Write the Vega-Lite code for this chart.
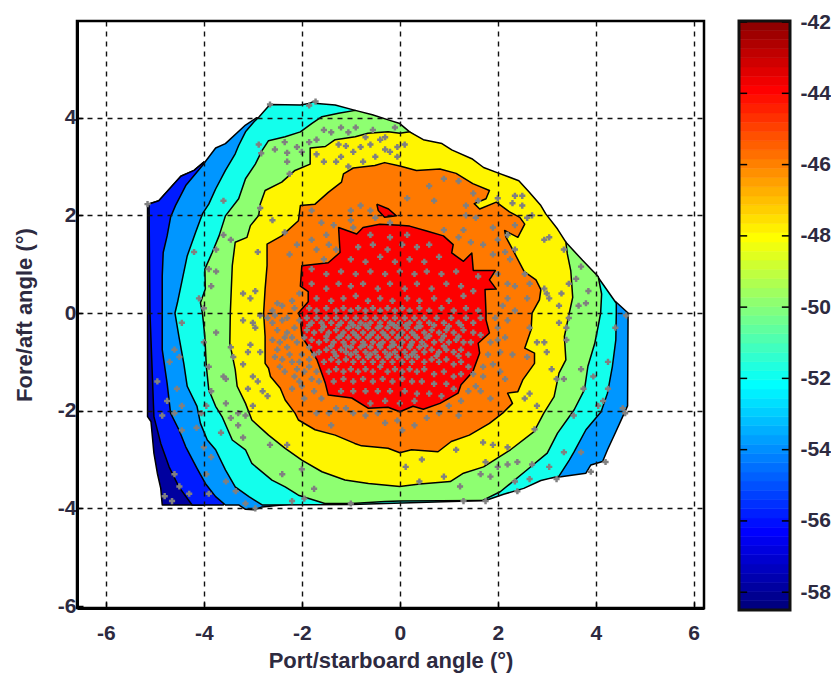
{"$schema":"https://vega.github.io/schema/vega-lite/v6.json","background":"white","padding":{"left":12,"top":11,"right":0,"bottom":0},"spacing":31,"config":{"view":{"stroke":null},"axis":{"labelFont":"Liberation Sans","labelFontWeight":"bold","labelFontSize":21,"labelColor":"#2d2a40","titleFont":"Liberation Sans","titleFontWeight":"bold","titleFontSize":22,"titleColor":"#2d2a40"}},
"datasets":{"contours":[
{"poly":1,"level":-58,"x":-5.15,"y":2.23},{"poly":1,"level":-58,"x":-4.92,"y":2.3},{"poly":1,"level":-58,"x":-4.64,"y":2.61},{"poly":1,"level":-58,"x":-4.47,"y":2.8},{"poly":1,"level":-58,"x":-4.2,"y":2.92},{"poly":1,"level":-58,"x":-4,"y":3.09},{"poly":1,"level":-58,"x":-3,"y":0},{"poly":1,"level":-58,"x":-4,"y":-3.93},{"poly":1,"level":-58,"x":-4.85,"y":-3.93},{"poly":1,"level":-58,"x":-4.88,"y":-3.59},{"poly":1,"level":-58,"x":-4.95,"y":-3.28},{"poly":1,"level":-58,"x":-5.02,"y":-2.87},{"poly":1,"level":-58,"x":-5.08,"y":-2.22},{"poly":1,"level":-58,"x":-5.15,"y":-2.12},{"poly":1,"level":-58,"x":-5.15,"y":2.23},
{"poly":2,"level":-56,"x":-5.12,"y":2.23},{"poly":2,"level":-56,"x":-4.92,"y":2.3},{"poly":2,"level":-56,"x":-4.64,"y":2.61},{"poly":2,"level":-56,"x":-4.47,"y":2.8},{"poly":2,"level":-56,"x":-4.2,"y":2.92},{"poly":2,"level":-56,"x":-4,"y":3.09},{"poly":2,"level":-56,"x":-3,"y":0},{"poly":2,"level":-56,"x":-3.6,"y":-3.93},{"poly":2,"level":-56,"x":-4.24,"y":-3.93},{"poly":2,"level":-56,"x":-4.51,"y":-3.56},{"poly":2,"level":-56,"x":-4.71,"y":-3.15},{"poly":2,"level":-56,"x":-4.88,"y":-2.67},{"poly":2,"level":-56,"x":-5.02,"y":-2.12},{"poly":2,"level":-56,"x":-5.1,"y":0},{"poly":2,"level":-56,"x":-5.12,"y":2.23},
{"poly":3,"level":-54,"x":-4.03,"y":3.02},{"poly":3,"level":-54,"x":-3.76,"y":3.38},{"poly":3,"level":-54,"x":-3.56,"y":3.47},{"poly":3,"level":-54,"x":-3.15,"y":3.85},{"poly":3,"level":-54,"x":-2.92,"y":4},{"poly":3,"level":-54,"x":4.42,"y":0.22},{"poly":3,"level":-54,"x":4.66,"y":0},{"poly":3,"level":-54,"x":4.65,"y":-1.9},{"poly":3,"level":-54,"x":4.55,"y":-2.12},{"poly":3,"level":-54,"x":4.41,"y":-2.43},{"poly":3,"level":-54,"x":4.24,"y":-2.8},{"poly":3,"level":-54,"x":4.14,"y":-3.04},{"poly":3,"level":-54,"x":3.9,"y":-3.11},{"poly":3,"level":-54,"x":3.8,"y":-3.28},{"poly":3,"level":-54,"x":3.29,"y":-3.35},{"poly":3,"level":-54,"x":-2.81,"y":-3.97},{"poly":3,"level":-54,"x":-2.98,"y":-4.03},{"poly":3,"level":-54,"x":-3.15,"y":-4.02},{"poly":3,"level":-54,"x":-3.29,"y":-3.93},{"poly":3,"level":-54,"x":-3.56,"y":-3.93},{"poly":3,"level":-54,"x":-3.76,"y":-3.76},{"poly":3,"level":-54,"x":-3.97,"y":-3.49},{"poly":3,"level":-54,"x":-4.14,"y":-3.18},{"poly":3,"level":-54,"x":-4.37,"y":-2.74},{"poly":3,"level":-54,"x":-4.51,"y":-2.39},{"poly":3,"level":-54,"x":-4.68,"y":-2.05},{"poly":3,"level":-54,"x":-4.75,"y":-1.44},{"poly":3,"level":-54,"x":-4.85,"y":-0.75},{"poly":3,"level":-54,"x":-4.85,"y":0.76},{"poly":3,"level":-54,"x":-4.83,"y":1.24},{"poly":3,"level":-54,"x":-4.75,"y":1.58},{"poly":3,"level":-54,"x":-4.68,"y":1.96},{"poly":3,"level":-54,"x":-4.58,"y":2.2},{"poly":3,"level":-54,"x":-4.37,"y":2.61},{"poly":3,"level":-54,"x":-4.03,"y":3.02},
{"poly":4,"level":-52,"x":-2.88,"y":4.01},{"poly":4,"level":-52,"x":-2.65,"y":4.27},{"poly":4,"level":-52,"x":-2.03,"y":4.26},{"poly":4,"level":-52,"x":-1.86,"y":4.29},{"poly":4,"level":-52,"x":-1.76,"y":4.33},{"poly":4,"level":-52,"x":-1.69,"y":4.29},{"poly":4,"level":-52,"x":-1.32,"y":4.26},{"poly":4,"level":-52,"x":-0.91,"y":4.15},{"poly":4,"level":-52,"x":4,"y":0.8},{"poly":4,"level":-52,"x":4.42,"y":0.2},{"poly":4,"level":-52,"x":4.42,"y":0},{"poly":4,"level":-52,"x":4.41,"y":-0.55},{"poly":4,"level":-52,"x":4.34,"y":-1.09},{"poly":4,"level":-52,"x":4.24,"y":-1.64},{"poly":4,"level":-52,"x":4.11,"y":-2.02},{"poly":4,"level":-52,"x":3.8,"y":-2.39},{"poly":4,"level":-52,"x":3.56,"y":-2.84},{"poly":4,"level":-52,"x":3.46,"y":-3.01},{"poly":4,"level":-52,"x":3.25,"y":-3.34},{"poly":4,"level":-52,"x":2.88,"y":-3.43},{"poly":4,"level":-52,"x":2.53,"y":-3.59},{"poly":4,"level":-52,"x":2.12,"y":-3.71},{"poly":4,"level":-52,"x":1.75,"y":-3.84},{"poly":4,"level":-52,"x":-0.98,"y":-3.92},{"poly":4,"level":-52,"x":-2.68,"y":-3.93},{"poly":4,"level":-52,"x":-2.81,"y":-3.93},{"poly":4,"level":-52,"x":-3.08,"y":-3.76},{"poly":4,"level":-52,"x":-3.36,"y":-3.56},{"poly":4,"level":-52,"x":-3.56,"y":-3.21},{"poly":4,"level":-52,"x":-3.76,"y":-2.8},{"poly":4,"level":-52,"x":-3.93,"y":-2.6},{"poly":4,"level":-52,"x":-4.07,"y":-2.26},{"poly":4,"level":-52,"x":-4.14,"y":-1.91},{"poly":4,"level":-52,"x":-4.34,"y":-1.5},{"poly":4,"level":-52,"x":-4.41,"y":-1.03},{"poly":4,"level":-52,"x":-4.51,"y":-0.48},{"poly":4,"level":-52,"x":-4.59,"y":0},{"poly":4,"level":-52,"x":-4.54,"y":0.21},{"poly":4,"level":-52,"x":-4.44,"y":0.69},{"poly":4,"level":-52,"x":-4.34,"y":1.17},{"poly":4,"level":-52,"x":-4.17,"y":1.65},{"poly":4,"level":-52,"x":-4.03,"y":2.03},{"poly":4,"level":-52,"x":-3.9,"y":2.23},{"poly":4,"level":-52,"x":-3.76,"y":2.54},{"poly":4,"level":-52,"x":-3.56,"y":2.92},{"poly":4,"level":-52,"x":-3.36,"y":3.26},{"poly":4,"level":-52,"x":-3.29,"y":3.43},{"poly":4,"level":-52,"x":-3.15,"y":3.71},{"poly":4,"level":-52,"x":-2.98,"y":3.91},{"poly":4,"level":-52,"x":-2.88,"y":4.01},
{"poly":5,"level":-50,"x":-0.91,"y":4.15},{"poly":5,"level":-50,"x":-0.56,"y":4.06},{"poly":5,"level":-50,"x":-0.22,"y":3.95},{"poly":5,"level":-50,"x":0,"y":3.88},{"poly":5,"level":-50,"x":0.2,"y":3.71},{"poly":5,"level":-50,"x":3.39,"y":1.45},{"poly":5,"level":-50,"x":3.73,"y":1.08},{"poly":5,"level":-50,"x":4,"y":0.8},{"poly":5,"level":-50,"x":4.05,"y":0.75},{"poly":5,"level":-50,"x":4.12,"y":0.39},{"poly":5,"level":-50,"x":4.1,"y":0},{"poly":5,"level":-50,"x":4.05,"y":-0.27},{"poly":5,"level":-50,"x":3.98,"y":-0.62},{"poly":5,"level":-50,"x":3.84,"y":-1.09},{"poly":5,"level":-50,"x":3.77,"y":-1.57},{"poly":5,"level":-50,"x":3.56,"y":-1.98},{"poly":5,"level":-50,"x":3.22,"y":-2.46},{"poly":5,"level":-50,"x":3.01,"y":-2.87},{"poly":5,"level":-50,"x":2.6,"y":-3.21},{"poly":5,"level":-50,"x":2.05,"y":-3.66},{"poly":5,"level":-50,"x":1.68,"y":-3.84},{"poly":5,"level":-50,"x":0,"y":-3.85},{"poly":5,"level":-50,"x":-0.3,"y":-3.86},{"poly":5,"level":-50,"x":-0.98,"y":-3.9},{"poly":5,"level":-50,"x":-1.53,"y":-3.9},{"poly":5,"level":-50,"x":-2.07,"y":-3.73},{"poly":5,"level":-50,"x":-2.34,"y":-3.56},{"poly":5,"level":-50,"x":-2.61,"y":-3.42},{"poly":5,"level":-50,"x":-3.02,"y":-3.08},{"poly":5,"level":-50,"x":-3.15,"y":-2.8},{"poly":5,"level":-50,"x":-3.42,"y":-2.6},{"poly":5,"level":-50,"x":-3.63,"y":-2.12},{"poly":5,"level":-50,"x":-3.76,"y":-1.91},{"poly":5,"level":-50,"x":-3.9,"y":-1.57},{"poly":5,"level":-50,"x":-3.95,"y":-1.09},{"poly":5,"level":-50,"x":-3.98,"y":-0.48},{"poly":5,"level":-50,"x":-4.03,"y":0},{"poly":5,"level":-50,"x":-4.07,"y":0.21},{"poly":5,"level":-50,"x":-3.97,"y":0.49},{"poly":5,"level":-50,"x":-3.98,"y":0.9},{"poly":5,"level":-50,"x":-3.83,"y":1.24},{"poly":5,"level":-50,"x":-3.69,"y":1.58},{"poly":5,"level":-50,"x":-3.56,"y":1.99},{"poly":5,"level":-50,"x":-3.29,"y":2.34},{"poly":5,"level":-50,"x":-3.15,"y":2.75},{"poly":5,"level":-50,"x":-2.95,"y":3.05},{"poly":5,"level":-50,"x":-2.81,"y":3.33},{"poly":5,"level":-50,"x":-2.68,"y":3.53},{"poly":5,"level":-50,"x":-2.34,"y":3.61},{"poly":5,"level":-50,"x":-2.03,"y":3.71},{"poly":5,"level":-50,"x":-1.8,"y":3.88},{"poly":5,"level":-50,"x":-1.59,"y":4.02},{"poly":5,"level":-50,"x":-1.25,"y":4.09},{"poly":5,"level":-50,"x":-0.91,"y":4.15},
{"poly":6,"level":-48,"x":0.2,"y":3.71},{"poly":6,"level":-48,"x":0.48,"y":3.55},{"poly":6,"level":-48,"x":0.86,"y":3.47},{"poly":6,"level":-48,"x":1.06,"y":3.34},{"poly":6,"level":-48,"x":1.47,"y":3.16},{"poly":6,"level":-48,"x":1.71,"y":2.98},{"poly":6,"level":-48,"x":2,"y":2.87},{"poly":6,"level":-48,"x":2.43,"y":2.71},{"poly":6,"level":-48,"x":2.64,"y":2.48},{"poly":6,"level":-48,"x":2.88,"y":2.2},{"poly":6,"level":-48,"x":2.98,"y":2.03},{"poly":6,"level":-48,"x":3.22,"y":1.72},{"poly":6,"level":-48,"x":3.39,"y":1.45},{"poly":6,"level":-48,"x":3.42,"y":1.21},{"poly":6,"level":-48,"x":3.49,"y":0.87},{"poly":6,"level":-48,"x":3.53,"y":0.32},{"poly":6,"level":-48,"x":3.46,"y":0},{"poly":6,"level":-48,"x":3.36,"y":-0.48},{"poly":6,"level":-48,"x":3.39,"y":-0.96},{"poly":6,"level":-48,"x":3.25,"y":-1.23},{"poly":6,"level":-48,"x":3.15,"y":-1.71},{"poly":6,"level":-48,"x":2.94,"y":-2.05},{"poly":6,"level":-48,"x":2.74,"y":-2.43},{"poly":6,"level":-48,"x":2.26,"y":-2.8},{"poly":6,"level":-48,"x":1.71,"y":-3.15},{"poly":6,"level":-48,"x":1.3,"y":-3.28},{"poly":6,"level":-48,"x":1.03,"y":-3.45},{"poly":6,"level":-48,"x":0.41,"y":-3.5},{"poly":6,"level":-48,"x":0,"y":-3.55},{"poly":6,"level":-48,"x":-0.64,"y":-3.49},{"poly":6,"level":-48,"x":-1.12,"y":-3.42},{"poly":6,"level":-48,"x":-1.59,"y":-3.25},{"poly":6,"level":-48,"x":-2,"y":-3.01},{"poly":6,"level":-48,"x":-2.34,"y":-2.77},{"poly":6,"level":-48,"x":-2.68,"y":-2.5},{"poly":6,"level":-48,"x":-3.02,"y":-2.19},{"poly":6,"level":-48,"x":-3.15,"y":-1.85},{"poly":6,"level":-48,"x":-3.32,"y":-1.5},{"poly":6,"level":-48,"x":-3.36,"y":-1.16},{"poly":6,"level":-48,"x":-3.47,"y":-0.62},{"poly":6,"level":-48,"x":-3.46,"y":0},{"poly":6,"level":-48,"x":-3.44,"y":0.49},{"poly":6,"level":-48,"x":-3.42,"y":0.97},{"poly":6,"level":-48,"x":-3.36,"y":1.45},{"poly":6,"level":-48,"x":-3.12,"y":1.55},{"poly":6,"level":-48,"x":-3.05,"y":1.79},{"poly":6,"level":-48,"x":-2.88,"y":2},{"poly":6,"level":-48,"x":-2.85,"y":2.23},{"poly":6,"level":-48,"x":-2.75,"y":2.51},{"poly":6,"level":-48,"x":-2.41,"y":2.68},{"poly":6,"level":-48,"x":-2.14,"y":2.92},{"poly":6,"level":-48,"x":-1.83,"y":3.05},{"poly":6,"level":-48,"x":-1.83,"y":3.38},{"poly":6,"level":-48,"x":-1.52,"y":3.41},{"poly":6,"level":-48,"x":-1.32,"y":3.55},{"poly":6,"level":-48,"x":-0.91,"y":3.61},{"poly":6,"level":-48,"x":-0.65,"y":3.68},{"poly":6,"level":-48,"x":-0.24,"y":3.71},{"poly":6,"level":-48,"x":0,"y":3.68},{"poly":6,"level":-48,"x":0.2,"y":3.71},
{"poly":7,"level":-46,"x":-2.78,"y":0},{"poly":7,"level":-46,"x":-2.75,"y":0.49},{"poly":7,"level":-46,"x":-2.71,"y":0.97},{"poly":7,"level":-46,"x":-2.71,"y":1.41},{"poly":7,"level":-46,"x":-2.41,"y":1.58},{"poly":7,"level":-46,"x":-2.07,"y":1.89},{"poly":7,"level":-46,"x":-2.03,"y":2.2},{"poly":7,"level":-46,"x":-1.73,"y":2.23},{"poly":7,"level":-46,"x":-1.46,"y":2.47},{"poly":7,"level":-46,"x":-1.19,"y":2.68},{"poly":7,"level":-46,"x":-1.15,"y":2.85},{"poly":7,"level":-46,"x":-0.95,"y":2.97},{"poly":7,"level":-46,"x":-0.51,"y":3.02},{"poly":7,"level":-46,"x":-0.31,"y":3.08},{"poly":7,"level":-46,"x":0,"y":3.01},{"poly":7,"level":-46,"x":0.34,"y":2.92},{"poly":7,"level":-46,"x":0.82,"y":2.95},{"poly":7,"level":-46,"x":1.15,"y":2.86},{"poly":7,"level":-46,"x":1.49,"y":2.65},{"poly":7,"level":-46,"x":1.83,"y":2.51},{"poly":7,"level":-46,"x":1.76,"y":2.34},{"poly":7,"level":-46,"x":1.52,"y":2.24},{"poly":7,"level":-46,"x":1.63,"y":2.13},{"poly":7,"level":-46,"x":1.97,"y":2.27},{"poly":7,"level":-46,"x":2.24,"y":2.07},{"poly":7,"level":-46,"x":2.45,"y":1.96},{"poly":7,"level":-46,"x":2.55,"y":1.82},{"poly":7,"level":-46,"x":2.41,"y":1.55},{"poly":7,"level":-46,"x":2.14,"y":1.69},{"poly":7,"level":-46,"x":2.17,"y":1.55},{"poly":7,"level":-46,"x":2.34,"y":1.23},{"poly":7,"level":-46,"x":2.54,"y":0.85},{"poly":7,"level":-46,"x":2.78,"y":0.68},{"poly":7,"level":-46,"x":2.88,"y":0.48},{"poly":7,"level":-46,"x":2.85,"y":0.27},{"poly":7,"level":-46,"x":2.7,"y":0},{"poly":7,"level":-46,"x":2.68,"y":-0.34},{"poly":7,"level":-46,"x":2.55,"y":-0.72},{"poly":7,"level":-46,"x":2.75,"y":-0.82},{"poly":7,"level":-46,"x":2.75,"y":-1.03},{"poly":7,"level":-46,"x":2.51,"y":-1.37},{"poly":7,"level":-46,"x":2.41,"y":-1.61},{"poly":7,"level":-46,"x":2.2,"y":-1.64},{"poly":7,"level":-46,"x":2.3,"y":-1.85},{"poly":7,"level":-46,"x":2.1,"y":-2.05},{"poly":7,"level":-46,"x":1.83,"y":-2.26},{"poly":7,"level":-46,"x":1.42,"y":-2.5},{"poly":7,"level":-46,"x":1.05,"y":-2.63},{"poly":7,"level":-46,"x":0.78,"y":-2.84},{"poly":7,"level":-46,"x":0.24,"y":-2.8},{"poly":7,"level":-46,"x":0,"y":-2.86},{"poly":7,"level":-46,"x":-0.24,"y":-2.77},{"poly":7,"level":-46,"x":-0.78,"y":-2.72},{"poly":7,"level":-46,"x":-0.92,"y":-2.67},{"poly":7,"level":-46,"x":-1.32,"y":-2.5},{"poly":7,"level":-46,"x":-1.73,"y":-2.39},{"poly":7,"level":-46,"x":-2.07,"y":-2.19},{"poly":7,"level":-46,"x":-2.14,"y":-2.05},{"poly":7,"level":-46,"x":-2.34,"y":-1.78},{"poly":7,"level":-46,"x":-2.44,"y":-1.54},{"poly":7,"level":-46,"x":-2.64,"y":-1.3},{"poly":7,"level":-46,"x":-2.68,"y":-1.13},{"poly":7,"level":-46,"x":-2.75,"y":-1.03},{"poly":7,"level":-46,"x":-2.75,"y":-0.48},{"poly":7,"level":-46,"x":-2.78,"y":0},
{"poly":8,"level":-44,"x":-2.03,"y":-0.1},{"poly":8,"level":-44,"x":-2,"y":-0.48},{"poly":8,"level":-44,"x":-1.69,"y":-0.96},{"poly":8,"level":-44,"x":-1.52,"y":-1.44},{"poly":8,"level":-44,"x":-1.46,"y":-1.68},{"poly":8,"level":-44,"x":-0.98,"y":-1.74},{"poly":8,"level":-44,"x":-0.64,"y":-1.95},{"poly":8,"level":-44,"x":-0.24,"y":-1.93},{"poly":8,"level":-44,"x":0,"y":-2.02},{"poly":8,"level":-44,"x":0.27,"y":-1.91},{"poly":8,"level":-44,"x":0.48,"y":-1.97},{"poly":8,"level":-44,"x":0.82,"y":-1.85},{"poly":8,"level":-44,"x":1.19,"y":-1.64},{"poly":8,"level":-44,"x":1.25,"y":-1.47},{"poly":8,"level":-44,"x":1.49,"y":-1.2},{"poly":8,"level":-44,"x":1.63,"y":-0.82},{"poly":8,"level":-44,"x":1.6,"y":-0.62},{"poly":8,"level":-44,"x":1.83,"y":-0.41},{"poly":8,"level":-44,"x":1.76,"y":-0.14},{"poly":8,"level":-44,"x":1.76,"y":0},{"poly":8,"level":-44,"x":1.74,"y":0.48},{"poly":8,"level":-44,"x":1.97,"y":0.49},{"poly":8,"level":-44,"x":1.83,"y":0.68},{"poly":8,"level":-44,"x":1.95,"y":0.87},{"poly":8,"level":-44,"x":1.5,"y":0.87},{"poly":8,"level":-44,"x":1.47,"y":1.23},{"poly":8,"level":-44,"x":1.3,"y":1.06},{"poly":8,"level":-44,"x":1.06,"y":1.23},{"poly":8,"level":-44,"x":1.09,"y":1.4},{"poly":8,"level":-44,"x":0.89,"y":1.58},{"poly":8,"level":-44,"x":0.55,"y":1.68},{"poly":8,"level":-44,"x":0.2,"y":1.78},{"poly":8,"level":-44,"x":0,"y":1.8},{"poly":8,"level":-44,"x":-0.41,"y":1.82},{"poly":8,"level":-44,"x":-0.75,"y":1.75},{"poly":8,"level":-44,"x":-0.88,"y":1.62},{"poly":8,"level":-44,"x":-1.25,"y":1.75},{"poly":8,"level":-44,"x":-1.22,"y":1.24},{"poly":8,"level":-44,"x":-1.46,"y":1.03},{"poly":8,"level":-44,"x":-2,"y":0.97},{"poly":8,"level":-44,"x":-2.03,"y":0.55},{"poly":8,"level":-44,"x":-1.87,"y":0.44},{"poly":8,"level":-44,"x":-1.87,"y":0.23},{"poly":8,"level":-44,"x":-2.07,"y":0},{"poly":8,"level":-44,"x":-2.03,"y":-0.1},
{"poly":9,"level":-44,"x":-0.47,"y":2.23},{"poly":9,"level":-44,"x":-0.23,"y":2.13},{"poly":9,"level":-44,"x":-0.07,"y":1.99},{"poly":9,"level":-44,"x":-0.31,"y":1.96},{"poly":9,"level":-44,"x":-0.44,"y":2.1},{"poly":9,"level":-44,"x":-0.47,"y":2.23}],
"points":[
{"x":-5.15,"y":2.23},{"x":-2.65,"y":4.27},{"x":-1.72,"y":4.33},{"x":-1.85,"y":4.25},{"x":-2.88,"y":3.45},{"x":-2.83,"y":3.27},{"x":-2.55,"y":3.35},{"x":-2.35,"y":3.5},{"x":-2.3,"y":3.28},{"x":-2.3,"y":3.1},{"x":-2.1,"y":3.4},{"x":-2,"y":3.3},{"x":-2.25,"y":2.85},{"x":-1.85,"y":3.5},{"x":-1.7,"y":3.55},{"x":-1.55,"y":3.75},{"x":-1.4,"y":3.7},{"x":-1.2,"y":3.8},{"x":-1.05,"y":3.7},{"x":-0.9,"y":3.8},{"x":-0.7,"y":3.6},{"x":-0.55,"y":3.75},{"x":-0.3,"y":3.6},{"x":-0.1,"y":3.8},{"x":-1.7,"y":3.25},{"x":-1.55,"y":3.1},{"x":-1.3,"y":3.1},{"x":-1.2,"y":3.2},{"x":-1.05,"y":3},{"x":-0.95,"y":3.3},{"x":-1.25,"y":3.45},{"x":-1.1,"y":3.42},{"x":-0.8,"y":3.4},{"x":-0.6,"y":3.45},{"x":-0.4,"y":3.55},{"x":-0.3,"y":3.35},{"x":-0.2,"y":3.3},{"x":-0.05,"y":3.4},{"x":-0.05,"y":3.2},{"x":-0.5,"y":3.2},{"x":-0.75,"y":3.1},{"x":0.1,"y":3.45},{"x":-3.6,"y":2.3},{"x":-3.75,"y":1.3},{"x":-3.9,"y":0.9},{"x":-3.75,"y":0.85},{"x":-4.2,"y":1.25},{"x":-3.6,"y":1.6},{"x":-3.45,"y":1.5},{"x":-3.85,"y":0.55},{"x":-4.1,"y":0.3},{"x":-4,"y":0.1},{"x":-3.2,"y":0.4},{"x":-2.95,"y":0.45},{"x":-3.05,"y":0.3},{"x":-2.9,"y":1.25},{"x":-2.85,"y":2.15},{"x":-2.6,"y":1.9},{"x":-2.35,"y":1.65},{"x":-2.1,"y":1.4},{"x":-2.25,"y":1.2},{"x":-1.8,"y":2.1},{"x":-1.6,"y":1.85},{"x":-1.5,"y":1.6},{"x":-1.35,"y":1.8},{"x":-1.8,"y":1.5},{"x":-1.7,"y":1.3},{"x":-1.45,"y":1.4},{"x":-1.55,"y":1.1},{"x":-1.3,"y":1.3},{"x":-1.8,"y":0.9},{"x":-2.5,"y":0.2},{"x":-2.4,"y":0.15},{"x":-2.2,"y":0.25},{"x":-2.05,"y":0.4},{"x":-2.6,"y":0.05},{"x":-2.15,"y":0.1},{"x":-1,"y":2.1},{"x":-0.8,"y":2.2},{"x":-0.6,"y":2.1},{"x":-0.5,"y":1.95},{"x":-0.2,"y":1.85},{"x":-1,"y":1.9},{"x":-0.95,"y":1.75},
{"x":0.15,"y":2.35},{"x":0.6,"y":2.6},{"x":0.9,"y":2.75},{"x":1.2,"y":2.7},{"x":1.5,"y":2.45},{"x":1.6,"y":2.3},{"x":0.7,"y":2.3},{"x":1.35,"y":2.2},{"x":1.35,"y":2},{"x":2.35,"y":2.4},{"x":2.5,"y":2.4},{"x":2.3,"y":2.25},{"x":2.5,"y":2.2},{"x":2.7,"y":2},{"x":2.6,"y":1.95},{"x":2,"y":2.35},{"x":1.55,"y":1.95},{"x":1.9,"y":1.75},{"x":2.35,"y":1.8},{"x":2.2,"y":1.6},{"x":2,"y":1.5},{"x":1.9,"y":1.2},{"x":1.7,"y":1.4},{"x":1.45,"y":1.45},{"x":1.3,"y":1.7},{"x":1.2,"y":1.55},{"x":0.9,"y":1.7},{"x":2.15,"y":1.25},{"x":2.25,"y":1.1},{"x":2.35,"y":1.3},{"x":2.55,"y":0.8},{"x":2.65,"y":0.6},{"x":2.95,"y":1.5},{"x":3.05,"y":1.55},{"x":3.35,"y":1.3},{"x":3.7,"y":0.95},{"x":3.6,"y":0.7},{"x":3.45,"y":0.6},{"x":3.3,"y":0.4},{"x":3.85,"y":0.45},{"x":3.65,"y":0.15},{"x":3.8,"y":0.2},{"x":3,"y":0.4},{"x":3.05,"y":0.3},{"x":2.95,"y":0.5},{"x":3.25,"y":0.15},{"x":2,"y":0.8},{"x":1.6,"y":0.75},{"x":2.2,"y":0.6},{"x":2.35,"y":0.55},{"x":2.6,"y":0.3},{"x":2.2,"y":0.3},{"x":2.1,"y":0.15},{"x":2.2,"y":-0.15},{"x":2,"y":-0.3},{"x":4.62,"y":-0.05},{"x":3.45,"y":-0.1},{"x":3.4,"y":-0.3},{"x":3.25,"y":-0.2},{"x":3.4,"y":-0.55},{"x":4.4,"y":-0.3},{"x":2.8,"y":-0.6},{"x":2.95,"y":-0.6},{"x":2.65,"y":-0.3},{"x":3,"y":-0.8},{"x":2.6,"y":-0.9},{"x":2.3,"y":-0.85},{"x":2.05,"y":-0.8},{"x":1.9,"y":-1.05},{"x":1.7,"y":-1.1},{"x":1.5,"y":-1.25},{"x":1.7,"y":-1.3},{"x":1.55,"y":-1.5},{"x":1.65,"y":-1.6},{"x":1.85,"y":-1.75},{"x":2.15,"y":-1.35},{"x":2.05,"y":-1.2},{"x":1.4,"y":-1.6},{"x":1.25,"y":-1.8},{"x":1,"y":-1.9},{"x":0.8,"y":-2.05},{"x":0.55,"y":-2.15},{"x":0.3,"y":-2.3},{"x":0.05,"y":-2.4},{"x":1.2,"y":-2.1},{"x":2.65,"y":-1.65},{"x":2.55,"y":-1.75},{"x":2.8,"y":-1.9},{"x":3.1,"y":-1.15},{"x":3.2,"y":-1.35},{"x":3.35,"y":-1.35},{"x":3.7,"y":-1.15},{"x":3.75,"y":-1.55},{"x":3.95,"y":-1.3},{"x":4.05,"y":-1.9},{"x":4.25,"y":-1},{"x":4.25,"y":-1.55},{"x":4.15,"y":-1.8},{"x":4.55,"y":-1.95},{"x":4.6,"y":-2.05},{"x":3.55,"y":-2.1},{"x":3.7,"y":-2.85},{"x":3.35,"y":-2.85},{"x":3.9,"y":-3.25},{"x":4.2,"y":-3.05},{"x":3.2,"y":-3.4},{"x":3.05,"y":-3.15},{"x":2.7,"y":-3.1},{"x":2.4,"y":-3.05},{"x":2.2,"y":-3.1},{"x":2,"y":-3.15},{"x":1.75,"y":-3.05},{"x":1.65,"y":-3.3},{"x":1.85,"y":-3.35},{"x":2.35,"y":-3.45},{"x":2.65,"y":-3.4},{"x":2.4,"y":-3.65},{"x":1.75,"y":-3.85},{"x":1.23,"y":-3.55},{"x":1.3,"y":-3.85},{"x":0.9,"y":-3.35},{"x":0.4,"y":-3.45},{"x":0.12,"y":-3.15},{"x":0.45,"y":-3},{"x":1.15,"y":-2.8},{"x":1.7,"y":-2.65},{"x":1.9,"y":-2.7},{"x":2.2,"y":-2.75},{"x":2.75,"y":-2.38},
{"x":-4.7,"y":-1},{"x":-4.95,"y":-1.4},{"x":-4.45,"y":-0.2},{"x":-4.6,"y":-0.75},{"x":-4.5,"y":-0.9},{"x":-4.55,"y":-1.55},{"x":-4.75,"y":-1.8},{"x":-4.45,"y":-1.9},{"x":-4.6,"y":-2.05},{"x":-4.45,"y":-2.4},{"x":-4.85,"y":-2.1},{"x":-4.15,"y":-2.35},{"x":-4.05,"y":-2.05},{"x":-4,"y":-2.75},{"x":-3.95,"y":-3.3},{"x":-3.9,"y":-3.7},{"x":-4.3,"y":-3.7},{"x":-4.5,"y":-3.55},{"x":-4.6,"y":-3.3},{"x":-4.8,"y":-3.75},{"x":-4.65,"y":-3.85},{"x":-3.85,"y":-2.95},{"x":-3.65,"y":-2.45},{"x":-3.55,"y":-3.45},{"x":-3.35,"y":-3.65},{"x":-3.15,"y":-3.9},{"x":-2.95,"y":-4},{"x":-3.95,"y":-1.9},{"x":-3.85,"y":-1.6},{"x":-3.9,"y":-1.1},{"x":-4,"y":-0.6},{"x":-3.75,"y":-0.4},{"x":-3.55,"y":-1.35},{"x":-3.6,"y":-1.3},{"x":-3.55,"y":-1.85},{"x":-3.45,"y":-2.15},{"x":-3.3,"y":-2.05},{"x":-3.3,"y":-2.3},{"x":-3.15,"y":-2.1},{"x":-3.2,"y":-2.55},{"x":-2.65,"y":-2.7},{"x":-2.3,"y":-2.7},{"x":-3.45,"y":-0.7},{"x":-3.4,"y":-0.9},{"x":-3.1,"y":-0.8},{"x":-3.05,"y":-0.65},{"x":-2.85,"y":-0.8},{"x":-3,"y":-1.3},{"x":-3.2,"y":-1.05},{"x":-2.9,"y":-1.4},{"x":-2.8,"y":-1.6},{"x":-2.7,"y":-1.7},{"x":-3.1,"y":-1.55},{"x":-3,"y":-1.9},{"x":-2.4,"y":-3.3},{"x":-2,"y":-3.2},{"x":-1.75,"y":-3.6},{"x":-1.95,"y":-3.8},{"x":-2.2,"y":-3.85},{"x":-1,"y":-3.9},{"x":-3,"y":-0.2},{"x":-3.2,"y":-0.15},{"x":-2.95,"y":-0.3},{"x":-2.85,"y":-0.05},
{"x":-2.6,"y":-0.2},{"x":-2.5,"y":-0.35},{"x":-2.4,"y":-0.15},{"x":-2.3,"y":-0.4},{"x":-2.15,"y":-0.3},{"x":-2.6,"y":-0.55},{"x":-2.45,"y":-0.6},{"x":-2.3,"y":-0.7},{"x":-2.1,"y":-0.6},{"x":-2.55,"y":-0.9},{"x":-2.4,"y":-0.95},{"x":-2.2,"y":-1},{"x":-2,"y":-0.85},{"x":-1.85,"y":-0.95},{"x":-2.35,"y":-1.2},{"x":-2.15,"y":-1.3},{"x":-1.95,"y":-1.2},{"x":-1.8,"y":-1.35},{"x":-2.2,"y":-1.55},{"x":-2,"y":-1.5},{"x":-1.75,"y":-1.6},{"x":-1.6,"y":-1.75},{"x":-1.95,"y":-1.75},{"x":-1.45,"y":-2.05},{"x":-1.3,"y":-1.95},{"x":-1.1,"y":-1.95},{"x":-0.95,"y":-2.05},{"x":-0.7,"y":-2.1},{"x":-0.45,"y":-2.05},{"x":-0.3,"y":-2.25},{"x":-0.05,"y":-2.2},{"x":-1.7,"y":-2.05},{"x":-1.4,"y":-2.3},
{"x":-2.7,"y":-0.1},{"x":-2.55,"y":-0.05},{"x":-2.3,"y":-0.1},{"x":-2.2,"y":-0.5},{"x":-2.5,"y":-0.75},{"x":-2.35,"y":-0.5},{"x":-2.05,"y":-1},{"x":-2.25,"y":-0.85},{"x":-2.05,"y":-0.15},{"x":-1.95,"y":-0.5},{"x":-1.85,"y":-0.7},{"x":-1.75,"y":-0.85},{"x":-2.45,"y":-1.1},{"x":-2.1,"y":-1.15},{"x":-1.85,"y":-1.1},{"x":-1.7,"y":-1.2},{"x":-2.05,"y":-1.4},{"x":-1.65,"y":-1.4},{"x":1.85,"y":-0.6},{"x":2.15,"y":-0.5},{"x":1.95,"y":-0.1},{"x":2.35,"y":0.05},{"x":1.8,"y":-0.85},{"x":2,"y":-0.55},
{"x":-1.85,"y":-0.25},{"x":-1.55,"y":-0.28},{"x":-1.25,"y":-0.25},{"x":-0.95,"y":-0.25},{"x":-0.7,"y":-0.25},{"x":-0.4,"y":-0.27},{"x":-0.12,"y":-0.25},{"x":0.12,"y":-0.25},{"x":0.42,"y":-0.27},{"x":0.7,"y":-0.25},{"x":1,"y":-0.27},{"x":1.25,"y":-0.25},{"x":-1.5,"y":-0.48},{"x":-1.2,"y":-0.47},{"x":-0.9,"y":-0.45},{"x":-0.6,"y":-0.45},{"x":-0.3,"y":-0.45},{"x":0,"y":-0.45},{"x":0.3,"y":-0.45},{"x":0.6,"y":-0.47},{"x":0.9,"y":-0.47},{"x":1.2,"y":-0.48},{"x":-1.4,"y":-0.68},{"x":-1.1,"y":-0.68},{"x":-0.72,"y":-0.65},{"x":-0.42,"y":-0.65},{"x":-0.12,"y":-0.65},{"x":0.22,"y":-0.65},{"x":0.52,"y":-0.67},{"x":0.9,"y":-0.68},{"x":-1.3,"y":-0.88},{"x":-1,"y":-0.85},{"x":-0.6,"y":-0.85},{"x":-0.2,"y":-0.85},{"x":0.25,"y":-0.85},{"x":0.75,"y":-0.88},{"x":1.2,"y":-0.88},
{"x":-1.9,"y":-0.1},{"x":-1.8,"y":-0.2},{"x":-1.7,"y":-0.1},{"x":-1.6,"y":-0.2},{"x":-1.5,"y":-0.1},{"x":-1.4,"y":-0.2},{"x":-1.3,"y":-0.1},{"x":-1.2,"y":-0.2},{"x":-1.1,"y":-0.1},{"x":-1,"y":-0.2},{"x":-0.9,"y":-0.1},{"x":-0.8,"y":-0.2},{"x":-0.7,"y":-0.1},{"x":-0.6,"y":-0.2},{"x":-0.5,"y":-0.1},{"x":-0.4,"y":-0.2},{"x":-0.3,"y":-0.1},{"x":-0.2,"y":-0.2},{"x":-0.1,"y":-0.1},{"x":0,"y":-0.2},{"x":0.1,"y":-0.1},{"x":0.2,"y":-0.2},{"x":0.3,"y":-0.1},{"x":0.4,"y":-0.2},{"x":0.5,"y":-0.1},{"x":0.6,"y":-0.2},{"x":0.75,"y":-0.1},{"x":0.9,"y":-0.2},{"x":1.05,"y":-0.1},{"x":1.2,"y":-0.2},{"x":1.35,"y":-0.1},{"x":1.5,"y":-0.2},{"x":1.65,"y":-0.1},
{"x":-1.9,"y":-0.35},{"x":-1.75,"y":-0.4},{"x":-1.6,"y":-0.35},{"x":-1.45,"y":-0.4},{"x":-1.3,"y":-0.35},{"x":-1.15,"y":-0.4},{"x":-1.05,"y":-0.3},{"x":-0.95,"y":-0.4},{"x":-0.85,"y":-0.3},{"x":-0.75,"y":-0.4},{"x":-0.65,"y":-0.3},{"x":-0.55,"y":-0.4},{"x":-0.45,"y":-0.3},{"x":-0.35,"y":-0.4},{"x":-0.25,"y":-0.3},{"x":-0.15,"y":-0.4},{"x":-0.05,"y":-0.3},{"x":0.05,"y":-0.4},{"x":0.15,"y":-0.3},{"x":0.25,"y":-0.4},{"x":0.35,"y":-0.3},{"x":0.5,"y":-0.4},{"x":0.65,"y":-0.35},{"x":0.8,"y":-0.4},{"x":0.95,"y":-0.35},{"x":1.1,"y":-0.4},{"x":1.3,"y":-0.35},{"x":1.5,"y":-0.4},{"x":1.65,"y":-0.45},
{"x":-1.8,"y":-0.55},{"x":-1.65,"y":-0.6},{"x":-1.5,"y":-0.55},{"x":-1.35,"y":-0.6},{"x":-1.25,"y":-0.5},{"x":-1.15,"y":-0.6},{"x":-1.05,"y":-0.5},{"x":-0.95,"y":-0.6},{"x":-0.85,"y":-0.5},{"x":-0.75,"y":-0.6},{"x":-0.65,"y":-0.5},{"x":-0.55,"y":-0.6},{"x":-0.45,"y":-0.5},{"x":-0.35,"y":-0.6},{"x":-0.25,"y":-0.5},{"x":-0.15,"y":-0.6},{"x":-0.05,"y":-0.5},{"x":0.05,"y":-0.6},{"x":0.15,"y":-0.5},{"x":0.25,"y":-0.6},{"x":0.35,"y":-0.5},{"x":0.45,"y":-0.6},{"x":0.55,"y":-0.5},{"x":0.7,"y":-0.6},{"x":0.85,"y":-0.55},{"x":1,"y":-0.6},{"x":1.15,"y":-0.55},{"x":1.3,"y":-0.6},{"x":1.45,"y":-0.6},
{"x":-1.65,"y":-0.8},{"x":-1.5,"y":-0.75},{"x":-1.35,"y":-0.8},{"x":-1.2,"y":-0.75},{"x":-1.1,"y":-0.8},{"x":-1,"y":-0.7},{"x":-0.9,"y":-0.8},{"x":-0.8,"y":-0.7},{"x":-0.7,"y":-0.8},{"x":-0.6,"y":-0.7},{"x":-0.5,"y":-0.8},{"x":-0.4,"y":-0.7},{"x":-0.3,"y":-0.8},{"x":-0.2,"y":-0.7},{"x":-0.1,"y":-0.8},{"x":0,"y":-0.7},{"x":0.1,"y":-0.8},{"x":0.2,"y":-0.7},{"x":0.3,"y":-0.8},{"x":0.4,"y":-0.7},{"x":0.5,"y":-0.8},{"x":0.65,"y":-0.75},{"x":0.8,"y":-0.8},{"x":0.95,"y":-0.75},{"x":1.1,"y":-0.8},{"x":1.25,"y":-0.75},{"x":1.4,"y":-0.85},
{"x":-1.55,"y":-1},{"x":-1.4,"y":-0.95},{"x":-1.25,"y":-1},{"x":-1.1,"y":-0.95},{"x":-0.95,"y":-1},{"x":-0.85,"y":-0.9},{"x":-0.75,"y":-1},{"x":-0.65,"y":-0.9},{"x":-0.55,"y":-1},{"x":-0.45,"y":-0.9},{"x":-0.35,"y":-1},{"x":-0.25,"y":-0.9},{"x":-0.15,"y":-1},{"x":-0.05,"y":-0.9},{"x":0.05,"y":-1},{"x":0.15,"y":-0.9},{"x":0.25,"y":-1},{"x":0.35,"y":-0.9},{"x":0.5,"y":-1},{"x":0.65,"y":-0.95},{"x":0.8,"y":-1},{"x":0.95,"y":-0.95},{"x":1.1,"y":-1.05},{"x":1.25,"y":-1},{"x":1.4,"y":-1.1},
{"x":-1.45,"y":-1.2},{"x":-1.3,"y":-1.15},{"x":-1.15,"y":-1.2},{"x":-1,"y":-1.15},{"x":-0.85,"y":-1.2},{"x":-0.7,"y":-1.15},{"x":-0.55,"y":-1.2},{"x":-0.4,"y":-1.1},{"x":-0.25,"y":-1.2},{"x":-0.1,"y":-1.15},{"x":0.05,"y":-1.2},{"x":0.2,"y":-1.15},{"x":0.35,"y":-1.2},{"x":0.5,"y":-1.15},{"x":0.7,"y":-1.25},{"x":0.9,"y":-1.2},{"x":1.1,"y":-1.3},{"x":1.25,"y":-1.25},
{"x":-1.35,"y":-1.4},{"x":-1.15,"y":-1.35},{"x":-0.95,"y":-1.4},{"x":-0.75,"y":-1.35},{"x":-0.55,"y":-1.4},{"x":-0.35,"y":-1.35},{"x":-0.15,"y":-1.4},{"x":0.05,"y":-1.35},{"x":0.25,"y":-1.4},{"x":0.45,"y":-1.4},{"x":0.7,"y":-1.45},{"x":0.95,"y":-1.45},{"x":1.1,"y":-1.55},{"x":-1.2,"y":-1.6},{"x":-0.95,"y":-1.6},{"x":-0.7,"y":-1.6},{"x":-0.45,"y":-1.6},{"x":-0.2,"y":-1.6},{"x":0.1,"y":-1.6},{"x":0.35,"y":-1.65},{"x":0.6,"y":-1.65},{"x":0.85,"y":-1.7},{"x":-0.6,"y":-1.85},{"x":-0.3,"y":-1.8},{"x":0,"y":-1.85},{"x":0.3,"y":-1.8},
{"x":-1.85,"y":0.1},{"x":-1.7,"y":0.05},{"x":-1.5,"y":0.1},{"x":-1.3,"y":0.05},{"x":-1.15,"y":0.1},{"x":-1,"y":0.05},{"x":-0.85,"y":0.1},{"x":-0.7,"y":0.05},{"x":-0.55,"y":0.1},{"x":-0.4,"y":0.05},{"x":-0.25,"y":0.1},{"x":-0.1,"y":0.05},{"x":0.05,"y":0.1},{"x":0.2,"y":0.05},{"x":0.4,"y":0.1},{"x":0.6,"y":0.05},{"x":0.85,"y":0.1},{"x":1.1,"y":0.05},{"x":1.35,"y":0.1},{"x":1.6,"y":0.05},{"x":-1.7,"y":0.3},{"x":-1.4,"y":0.25},{"x":-1.15,"y":0.3},{"x":-0.9,"y":0.35},{"x":-0.65,"y":0.25},{"x":-0.4,"y":0.3},{"x":-0.15,"y":0.25},{"x":0.15,"y":0.3},{"x":0.4,"y":0.25},{"x":0.7,"y":0.3},{"x":1,"y":0.25},{"x":1.3,"y":0.35},{"x":-1.8,"y":0.6},{"x":-1.5,"y":0.5},{"x":-1.25,"y":0.6},{"x":-1,"y":0.55},{"x":-0.75,"y":0.6},{"x":-0.45,"y":0.5},{"x":-0.2,"y":0.6},{"x":0.1,"y":0.5},{"x":0.35,"y":0.6},{"x":0.65,"y":0.5},{"x":0.95,"y":0.6},{"x":1.25,"y":0.55},{"x":1.5,"y":0.45},{"x":-1.5,"y":0.8},{"x":-1.2,"y":0.85},{"x":-0.9,"y":0.8},{"x":-0.6,"y":0.85},{"x":-0.3,"y":0.8},{"x":0,"y":0.85},{"x":0.3,"y":0.8},{"x":0.55,"y":0.85},{"x":0.85,"y":0.8},{"x":1.15,"y":0.85},{"x":-1,"y":1.1},{"x":-0.7,"y":1.05},{"x":-0.4,"y":1.15},{"x":-0.1,"y":1.05},{"x":0.2,"y":1.1},{"x":0.5,"y":1.05},{"x":0.8,"y":1.15},{"x":-0.85,"y":1.35},{"x":-0.55,"y":1.4},{"x":-0.25,"y":1.3},{"x":0.05,"y":1.4},{"x":0.35,"y":1.35},{"x":0.6,"y":1.4},{"x":-0.6,"y":1.6},{"x":-0.2,"y":1.55},{"x":0.15,"y":1.6}],
"bar":[{"lo":-58.5,"hi":-58.24},{"lo":-58.24,"hi":-57.98},{"lo":-57.98,"hi":-57.73},{"lo":-57.73,"hi":-57.47},{"lo":-57.47,"hi":-57.21},{"lo":-57.21,"hi":-56.95},{"lo":-56.95,"hi":-56.69},{"lo":-56.69,"hi":-56.43},{"lo":-56.43,"hi":-56.18},{"lo":-56.18,"hi":-55.92},{"lo":-55.92,"hi":-55.66},{"lo":-55.66,"hi":-55.4},{"lo":-55.4,"hi":-55.14},{"lo":-55.14,"hi":-54.88},{"lo":-54.88,"hi":-54.63},{"lo":-54.63,"hi":-54.37},{"lo":-54.37,"hi":-54.11},{"lo":-54.11,"hi":-53.85},{"lo":-53.85,"hi":-53.59},{"lo":-53.59,"hi":-53.33},{"lo":-53.33,"hi":-53.08},{"lo":-53.08,"hi":-52.82},{"lo":-52.82,"hi":-52.56},{"lo":-52.56,"hi":-52.3},{"lo":-52.3,"hi":-52.04},{"lo":-52.04,"hi":-51.78},{"lo":-51.78,"hi":-51.53},{"lo":-51.53,"hi":-51.27},{"lo":-51.27,"hi":-51.01},{"lo":-51.01,"hi":-50.75},{"lo":-50.75,"hi":-50.49},{"lo":-50.49,"hi":-50.23},{"lo":-50.23,"hi":-49.98},{"lo":-49.98,"hi":-49.72},{"lo":-49.72,"hi":-49.46},{"lo":-49.46,"hi":-49.2},{"lo":-49.2,"hi":-48.94},{"lo":-48.94,"hi":-48.68},{"lo":-48.68,"hi":-48.43},{"lo":-48.43,"hi":-48.17},{"lo":-48.17,"hi":-47.91},{"lo":-47.91,"hi":-47.65},{"lo":-47.65,"hi":-47.39},{"lo":-47.39,"hi":-47.13},{"lo":-47.13,"hi":-46.88},{"lo":-46.88,"hi":-46.62},{"lo":-46.62,"hi":-46.36},{"lo":-46.36,"hi":-46.1},{"lo":-46.1,"hi":-45.84},{"lo":-45.84,"hi":-45.58},{"lo":-45.58,"hi":-45.33},{"lo":-45.33,"hi":-45.07},{"lo":-45.07,"hi":-44.81},{"lo":-44.81,"hi":-44.55},{"lo":-44.55,"hi":-44.29},{"lo":-44.29,"hi":-44.03},{"lo":-44.03,"hi":-43.78},{"lo":-43.78,"hi":-43.52},{"lo":-43.52,"hi":-43.26},{"lo":-43.26,"hi":-43},{"lo":-43,"hi":-42.74},{"lo":-42.74,"hi":-42.48},{"lo":-42.48,"hi":-42.23},{"lo":-42.23,"hi":-41.97}],
"ticks":[{"v":-58},{"v":-56},{"v":-54},{"v":-52},{"v":-50},{"v":-48},{"v":-46},{"v":-44},{"v":-42}],
"frame":[{"a":-58.5,"b":-41.97}]},
"hconcat":[
{"width":627,"height":587,"view":{"stroke":"#000000","strokeWidth":2.5},"layer":[
{"data":{"name":"contours"},"mark":{"type":"line","stroke":"#000000","strokeWidth":1.5,"strokeJoin":"round"},"encoding":{"x":{"field":"x","type":"quantitative","scale":{"domain":[-6.59,6.21],"nice":false,"zero":false},"axis":{"values":[-6,-4,-2,0,2,4,6],"labelExpr":"''+datum.value","title":"Port/starboard angle (°)","zindex":1,"grid":true,"gridColor":"#111111","gridDash":[5,5],"gridWidth":1.4,"gridOpacity":1,"domainColor":"#000000","domainWidth":3,"tickColor":"#000000","tickSize":-6,"tickWidth":1.5,"labelPadding":20,"titlePadding":7}},"y":{"field":"y","type":"quantitative","scale":{"domain":[-6.04,5.98],"nice":false,"zero":false},"axis":{"values":[-6,-4,-2,0,2,4],"labelExpr":"''+datum.value","title":"Fore/aft angle (°)","zindex":1,"grid":true,"gridColor":"#111111","gridDash":[5,5],"gridWidth":1.4,"gridOpacity":{"condition":{"test":"datum.value==-6","value":0},"value":1},"domainColor":"#000000","domainWidth":3,"tickColor":"#000000","tickSize":-6,"tickWidth":1.5,"labelPadding":7,"titlePadding":21}},"detail":{"field":"poly","type":"nominal"},"fill":{"field":"level","type":"quantitative","scale":{"domain":[-58.5,-56.43,-52.3,-48.17,-44.03,-41.97],"range":["#000080","#0000ff","#00ffff","#ffff00","#ff0000","#800000"],"interpolate":"rgb"},"legend":null},"order":{"value":null}}},
{"data":{"name":"points"},"mark":{"type":"point","shape":"cross","filled":true,"color":"#808080","size":38,"opacity":1},"encoding":{"x":{"field":"x","type":"quantitative"},"y":{"field":"y","type":"quantitative"}}}
]},
{"width":51,"height":589,"layer":[
{"data":{"name":"bar"},"mark":{"type":"rect","strokeWidth":0.6},"encoding":{"x":{"datum":0,"type":"quantitative","scale":{"domain":[0,1],"nice":false},"axis":null},"x2":{"datum":1},"y":{"field":"lo","type":"quantitative","scale":{"domain":[-58.5,-41.97],"nice":false,"zero":false},"axis":{"orient":"right","values":[-58,-56,-54,-52,-50,-48,-46,-44,-42],"labelExpr":"''+datum.value","title":null,"grid":false,"domain":false,"ticks":false,"labelPadding":10}},"y2":{"field":"hi"},"fill":{"field":"lo","type":"quantitative","scale":{"domain":[-58.5,-56.43,-52.3,-48.17,-44.03,-41.97],"range":["#000080","#0000ff","#00ffff","#ffff00","#ff0000","#800000"],"interpolate":"rgb"},"legend":null},"stroke":{"field":"lo","type":"quantitative","scale":{"domain":[-58.5,-56.43,-52.3,-48.17,-44.03,-41.97],"range":["#000080","#0000ff","#00ffff","#ffff00","#ff0000","#800000"],"interpolate":"rgb"},"legend":null}}},
{"data":{"name":"ticks"},"mark":{"type":"rule","stroke":"#000000","strokeWidth":1.5},"encoding":{"x":{"datum":0},"x2":{"datum":0.16},"y":{"field":"v","type":"quantitative"}}},
{"data":{"name":"ticks"},"mark":{"type":"rule","stroke":"#000000","strokeWidth":1.5},"encoding":{"x":{"datum":0.84},"x2":{"datum":1},"y":{"field":"v","type":"quantitative"}}},
{"data":{"name":"frame"},"mark":{"type":"rect","fillOpacity":0,"stroke":"#111111","strokeWidth":3},"encoding":{"x":{"datum":0},"x2":{"datum":1},"y":{"field":"a","type":"quantitative"},"y2":{"field":"b"}}}
]}
]}
